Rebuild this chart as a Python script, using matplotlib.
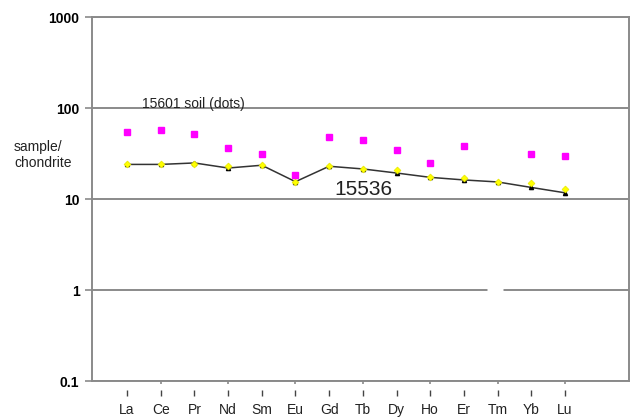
import numpy as np
import matplotlib
matplotlib.use("Agg")
import matplotlib.pyplot as plt

plt.rcParams['font.family'] = ['Liberation Sans', 'DejaVu Sans']

# REE chondrite-normalised pattern
elements = ["La", "Ce", "Pr", "Nd", "Sm", "Eu", "Gd", "Tb", "Dy", "Ho", "Er", "Tm", "Yb", "Lu"]
# 15601 soil (magenta dots), Tm missing
soil_15601 = [55, 58, 52, 36, 31.5, 18.5, 47.5, 44, 35, 25, 38.5, np.nan, 31, 30]
# 15536 line
rock_15536 = [24, 24, 24.9, 21.9, 23.5, 15.5, 22.9, 21.4, 19.3, 17.3, 16.2, 15.4, 13.4, 11.7]
# yellow dots sitting on the line
yellow_pts = [24, 24, 24.5, 23.2, 23.5, 15.5, 23, 21.5, 20.7, 17.3, 17, 15.4, 15.1, 13]

ytick_vals = [0.1, 1, 10, 100, 1000]
ytick_labels = ["0.1", "1", "10", "100", "1000"]

x = np.arange(len(elements))
grey = "#8a8a8a"

fig = plt.figure(figsize=(6.31, 4.18), dpi=100)
ax = fig.add_axes([0.1458, 0.0885, 0.851, 0.8708])

ax.set_yscale("log")
ax.set_ylim(0.1, 1000)
ax.set_xlim(-1.04, 14.9)

# horizontal grid at each decade
for v in ytick_vals:
    ax.axhline(v, color=grey, lw=1.4, zorder=1)
# small break in the "1" gridline between Er and Tm
ax.hlines(1, 10.7, 11.15, color="white", lw=2.5, zorder=1.5)

for s in ax.spines.values():
    s.set_color(grey)
    s.set_linewidth(1.4)

ax.plot(x, rock_15536, color="#333333", lw=1.1, marker="^", ms=3,
        mfc="black", mec="black", zorder=3)
ax.plot(x, yellow_pts, ls="none", marker="D", ms=3.5, mfc="#ffff00",
        mec="#e6e600", mew=0.5, zorder=4)
ax.plot(x, soil_15601, ls="none", marker="s", ms=5, mfc="#ff00ff",
        mec="#ff00ff", zorder=4)

ax.set_yticks(ytick_vals)
ax.set_yticklabels(ytick_labels, fontweight="bold", fontsize=10)
ax.yaxis.set_minor_locator(matplotlib.ticker.NullLocator())
ax.tick_params(axis="y", length=5, color=grey, width=1.2, pad=4)

# real axis ticks every other category, tiny
ax.set_xticks(x[1::2])
ax.set_xticklabels([])
ax.tick_params(axis="x", length=2, color=grey, width=1.2)

# category marks and labels below the axis
xt = ax.get_xaxis_transform()
ax.plot(x, [-0.033] * len(x), transform=xt, ls="none", marker="|",
        ms=5, mew=1.0, color="#444444", clip_on=False)
for xi, name in zip(x, elements):
    ax.text(xi, -0.08, name, transform=xt, ha="center", va="center",
            fontsize=10, color="#222222")

ax.text(0.45, 112, "15601 soil (dots)", fontsize=10,
        color="#222222", va="center")
ax.text(6.15, 16.3, "15536", fontsize=15, color="#222222", va="top")

fig.text(14 / 631, 1 - 155 / 418, "sample/\nchondrite", fontsize=10,
         color="#222222", va="center", linespacing=1.25)

fig.savefig("out.png", dpi=100)
